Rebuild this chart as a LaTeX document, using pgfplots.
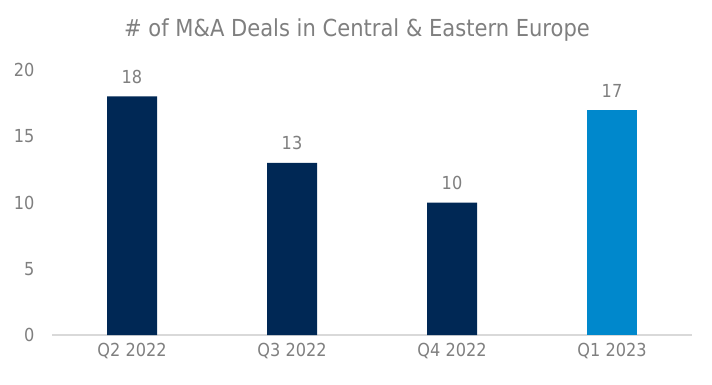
\documentclass[border=0pt]{standalone}
\usepackage{pgfplots}
\pgfplotsset{compat=1.18}
\usepackage{fontspec}
\setmainfont{DejaVu Sans Condensed}
\definecolor{navy}{HTML}{002855}
\definecolor{lblue}{HTML}{0088CC}
\definecolor{txt}{HTML}{7F7F7F}
\definecolor{grid}{HTML}{D9D9D9}
\begin{document}
\begin{tikzpicture}[x=1bp,y=1bp]
\path[use as bounding box] (0,0) rectangle (712,384);
\begin{axis}[
  at={(52bp,49bp)}, anchor=south west,
  scale only axis, width=640bp, height=265bp,
  xmin=-0.5, xmax=3.5, ymin=0, ymax=20,
  axis line style={draw=none},
  ytick={0,5,10,15,20},
  xtick={0,1,2,3},
  xticklabels={Q2 2022,Q3 2022,Q4 2022,Q1 2023},
  major tick length=0pt,
  tick label style={text=txt, font=\fontsize{18}{20}\selectfont},
  /pgf/number format/assume math mode=true,
  yticklabel style={xshift=-14bp},
  xticklabel style={yshift=-5bp},
  clip=false,
  ybar, bar width=50bp, bar shift=0pt,
  nodes near coords,
  nodes near coords style={text=txt, font=\fontsize{18}{20}\selectfont, yshift=9bp},
  every axis plot/.append style={draw=none},
]
\draw[grid, line width=1.5bp] (axis cs:-0.5,0) -- (axis cs:3.5,0);
\addplot[fill=navy] coordinates {(0,18) (1,13) (2,10)};
\addplot[fill=lblue] coordinates {(3,17)};
\end{axis}
\node[text=txt, font=\fontsize{23.5}{26}\selectfont] at (357,354) {\# of M\&A Deals in Central \& Eastern Europe};
\end{tikzpicture}
\end{document}
